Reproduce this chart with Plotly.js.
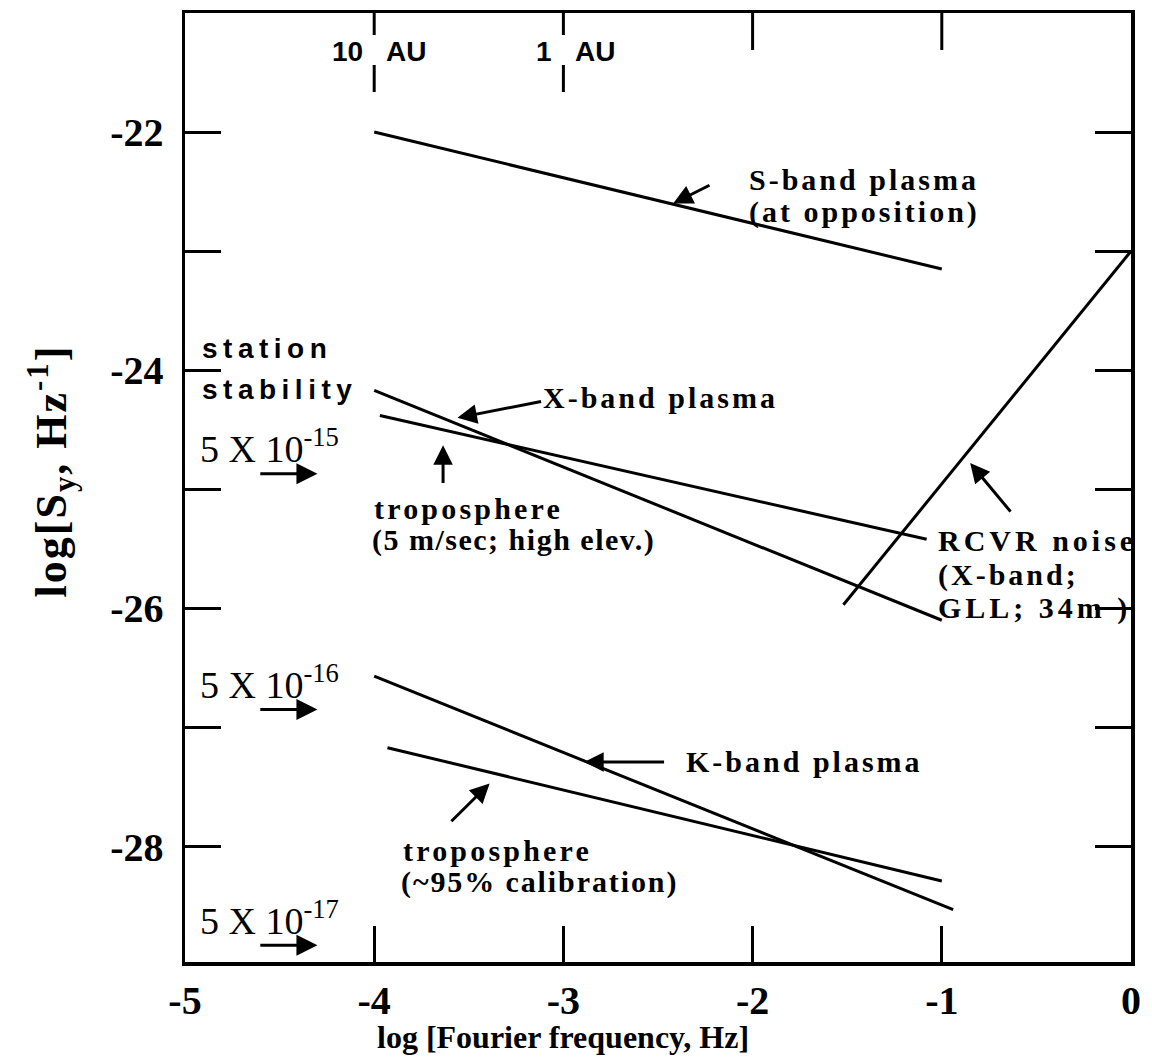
<!DOCTYPE html>
<html>
<head>
<meta charset="utf-8">
<script src="https://cdn.plot.ly/plotly-3.0.1.min.js"></script>
<style>
  body { margin: 0; background: #fff; }
  #chart { width: 1152px; height: 1060px; }
</style>
</head>
<body>
<div id="chart"></div>
<script>
// End points of each spectral line: x = log10 Fourier frequency (Hz), y = log10 S_y (1/Hz)
const sBandX = [-4, -1];
const sBandY = [-22.0, -23.15];
const xBandX = [-4, -1];
const xBandY = [-24.17, -26.1];
const tropoHighX = [-3.97, -1.08];
const tropoHighY = [-24.38, -25.42];
const rcvrX = [-1.52, 0];
const rcvrY = [-25.97, -23.0];
const kBandX = [-4, -0.94];
const kBandY = [-26.57, -28.53];
const tropoCalX = [-3.93, -1.0];
const tropoCalY = [-27.17, -28.29];

// Axis ticks
const xTickVals = [-5, -4, -3, -2, -1, 0];
const xTickText = ['-5', '-4', '-3', '-2', '-1', '0'];
const yTickVals = [-22, -23, -24, -25, -26, -27, -28];
const yTickText = ['-22', '', '-24', '', '-26', '', '-28'];

// Distance markers on the top axis, and the plain top ticks
const auTickVals = [-4, -3];
const auDistances = ['10', '1'];
const plainTopTicks = [-2, -1];

// Allan deviation reference levels (5 x 10^n) marked by arrows, in log S_y
const sigmaExponents = ['-15', '-16', '-17'];
const sigmaLevels = [-24.87, -26.85, -28.83];

const BLACK = '#000';
const SERIF = 'Liberation Serif, Times New Roman, serif';
const SANS = 'Liberation Sans, Arial, sans-serif';
const serifBold = (size) => ({ family: SERIF, size, weight: 700, color: BLACK });
const serif = (size) => ({ family: SERIF, size, color: BLACK });
const sansBold = (size) => ({ family: SANS, size, weight: 700, color: BLACK });

function lineTrace(x, y, name) {
  return { type: 'scatter', mode: 'lines', x, y, name, line: { color: BLACK, width: 3 }, hoverinfo: 'skip' };
}

const traces = [
  lineTrace(sBandX, sBandY, 'S-band plasma'),
  lineTrace(xBandX, xBandY, 'X-band plasma'),
  lineTrace(tropoHighX, tropoHighY, 'troposphere (5 m/sec)'),
  lineTrace(rcvrX, rcvrY, 'RCVR noise'),
  lineTrace(kBandX, kBandY, 'K-band plasma'),
  lineTrace(tropoCalX, tropoCalY, 'troposphere (~95% calibration)')
];

const annotations = [];
const spacingRules = [];

function letterSpacing(index, px) {
  spacingRules.push('g.annotation[data-index="' + index + '"] text { letter-spacing: ' + px + 'px; }');
}

// Left-anchored label; optional letter spacing applied through a stylesheet rule
function addText(text, x, y, font, spacing, opts) {
  annotations.push(Object.assign({
    text, x, y, xref: 'x', yref: 'y', showarrow: false, font,
    xanchor: 'left', yanchor: 'middle', align: 'left'
  }, opts || {}));
  if (spacing) letterSpacing(annotations.length - 1, spacing);
}

// Pointer arrow from a tail point to a head point, both in data units
function addArrow(tailX, tailY, headX, headY, size) {
  annotations.push({
    text: '', x: headX, y: headY, ax: tailX, ay: tailY,
    xref: 'x', yref: 'y', axref: 'x', ayref: 'y',
    showarrow: true, arrowhead: 2, arrowsize: size || 1.3, arrowwidth: 3,
    arrowcolor: BLACK, standoff: 0, startstandoff: 0, font: { size: 2 }
  });
}

// Curve labels and pointers
addText('S-band plasma', -2.03, -22.40, serifBold(30), 3);
addText('(at opposition)', -2.03, -22.67, serifBold(30), 3);
addArrow(-2.22, -22.44, -2.42, -22.6);

addText('X-band plasma', -3.12, -24.23, serifBold(30), 3);
addArrow(-3.11, -24.26, -3.56, -24.40);

addText('troposphere', -4.01, -25.16, serifBold(30), 3.2);
addText('(5 m/sec; high elev.)', -4.02, -25.43, serifBold(30), 1.5);
addArrow(-3.636, -24.96, -3.636, -24.63);

addText('RCVR noise', -1.03, -25.43, serifBold(30), 4);
addText('(X-band;', -1.03, -25.72, serifBold(30), 3);
addText('GLL; 34m )', -1.03, -26.0, serifBold(30), 4);
addArrow(-0.63, -25.20, -0.85, -24.78);

addText('K-band plasma', -2.36, -27.29, serifBold(30), 3);
addArrow(-2.46, -27.29, -2.89, -27.29);

addText('troposphere', -3.86, -28.03, serifBold(30), 3.2);
addText('(~95% calibration)', -3.87, -28.30, serifBold(30), 1.9);
addArrow(-3.60, -27.80, -3.39, -27.47);

addText('station', -4.92, -23.82, sansBold(28), 5.5);
addText('stability', -4.92, -24.16, sansBold(28), 5.5);

// Allan deviation levels
sigmaLevels.forEach((lvl, i) => {
  addText('5 X 10<sup>' + sigmaExponents[i] + '</sup>', -4.93, lvl + 0.23, serif(38));
  addArrow(-4.61, lvl, -4.30, lvl, 1.4);
});

// Distance labels beside the split top ticks
auTickVals.forEach((v, i) => {
  annotations.push({ text: auDistances[i], x: v, y: 1, xref: 'x', yref: 'paper', xanchor: 'right', yanchor: 'middle',
    xshift: -9, yshift: -38, showarrow: false, font: sansBold(28) });
  annotations.push({ text: 'AU', x: v, y: 1, xref: 'x', yref: 'paper', xanchor: 'left', yanchor: 'middle',
    xshift: 10, yshift: -38, showarrow: false, font: sansBold(28) });
});

// Axis titles
annotations.push({ text: 'log [Fourier frequency, Hz]', x: -3, y: 0, xref: 'x', yref: 'paper',
  xanchor: 'center', yanchor: 'middle', yshift: -75, showarrow: false, font: serifBold(32) });
annotations.push({ text: 'log[S<sub>y</sub>, Hz<sup>-1</sup>]', x: 0, y: -24.85, xref: 'paper', yref: 'y',
  xanchor: 'center', yanchor: 'middle', xshift: -133, textangle: -90, showarrow: false, font: serifBold(44) });
letterSpacing(annotations.length - 1, 2);

// Top-axis ticks drawn as pixel-length segments hanging from the frame
const shapes = [];
const tickSeg = (x, from, to) => ({ type: 'line', xref: 'x', yref: 'paper', ysizemode: 'pixel', yanchor: 1,
  x0: x, x1: x, y0: from, y1: to, line: { color: BLACK, width: 3 } });
plainTopTicks.forEach(v => shapes.push(tickSeg(v, 0, -37)));
auTickVals.forEach(v => { shapes.push(tickSeg(v, 0, -22)); shapes.push(tickSeg(v, -52, -79)); });

const styleEl = document.createElement('style');
styleEl.textContent = spacingRules.join('\n');
document.head.appendChild(styleEl);

const axisCommon = {
  showgrid: false, zeroline: false, showline: true, linecolor: BLACK, linewidth: 3.5,
  ticks: 'inside', ticklen: 36, tickwidth: 3, tickcolor: BLACK,
  tickfont: serifBold(40), tickmode: 'array'
};

const layout = {
  width: 1152, height: 1060,
  margin: { l: 185, r: 21, t: 13, b: 98 },
  paper_bgcolor: '#fff', plot_bgcolor: '#fff',
  showlegend: false,
  xaxis: Object.assign({}, axisCommon, { range: [-5, 0], tickvals: xTickVals, ticktext: xTickText, mirror: true, ticklabelstandoff: 0 }),
  yaxis: Object.assign({}, axisCommon, { range: [-28.97, -21.0], tickvals: yTickVals, ticktext: yTickText, mirror: 'ticks', ticklabelstandoff: 10 }),
  annotations, shapes
};

Plotly.newPlot('chart', traces, layout, { staticPlot: true });
</script>
</body>
</html>
